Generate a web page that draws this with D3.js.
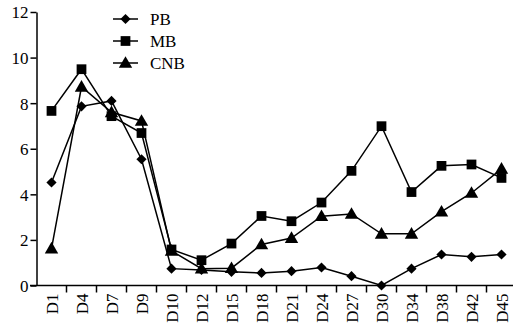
<!DOCTYPE html>
<html>
<head>
<meta charset="utf-8">
<script src="https://cdn.jsdelivr.net/npm/d3@7"></script>
<style>
body{margin:0;background:#fff;}
</style>
</head>
<body>
<div id="canvas"></div>
<script>
var days = ['D1','D4','D7','D9','D10','D12','D15','D18','D21','D24','D27','D30','D34','D38','D42','D45'];
var pb  = [4.52,7.86,8.10,5.54,0.74,0.68,0.60,0.55,0.63,0.79,0.41,0.00,0.74,1.36,1.26,1.36];
var mb  = [7.66,9.49,7.43,6.69,1.58,1.11,1.84,3.05,2.82,3.64,5.03,6.99,4.10,5.25,5.31,4.72];
var cnb = [1.62,8.72,7.60,7.22,1.52,0.74,0.76,1.80,2.08,3.04,3.14,2.27,2.27,3.24,4.06,5.12];
var yTicks = [0,2,4,6,8,10,12];
var seriesNames = ['PB','MB','CNB'];

var FONT = "'Liberation Serif', 'DejaVu Serif', serif";
var W = 513, H = 330;
var svg = d3.select('#canvas').append('svg')
    .attr('width',W).attr('height',H);

//Scale
var scaleX = d3.scaleBand().domain(days).range([36.5,516.5]).padding(0);
var scaleY = d3.scaleLinear().domain([0,12]).range([285.5,12]);

var series = [
    {name:'PB', values:pb, symbol:d3.symbolSquare, size:52, rot:45},
    {name:'MB', values:mb, symbol:d3.symbolSquare, size:95, rot:0},
    {name:'CNB', values:cnb, symbol:d3.symbolTriangle, size:78, rot:0}
];

//Axis
var axisY = d3.axisLeft(scaleY).tickValues(yTicks).tickSize(6).tickSizeOuter(0).tickPadding(2);
var gy = svg.append('g').attr('transform','translate(36.5,0)').call(axisY);
gy.attr('font-family',FONT);
gy.selectAll('text').attr('font-family',FONT).style('font-size','17px').attr('dy','0.35em').attr('fill','#000');

var gx = svg.append('g').attr('transform','translate(0,285.5)');
gx.append('line').attr('x1',30).attr('x2',516).attr('stroke','#000').attr('stroke-width',1.5);
gx.selectAll('.tk').data(days.slice(1)).enter().append('line')
    .attr('x1',function(d){return scaleX(d);})
    .attr('x2',function(d){return scaleX(d);})
    .attr('y1',0).attr('y2',7)
    .attr('stroke','#000').attr('stroke-width',1.5);
gx.selectAll('.lbl').data(days).enter().append('text')
    .attr('transform',function(d){return 'translate('+(scaleX(d)+scaleX.bandwidth()/2+6)+',8) rotate(-90)';})
    .attr('text-anchor','end')
    .attr('font-family',FONT)
    .style('font-size','17px')
    .text(function(d){return d;});

gy.select('.domain').attr('stroke-width',1.5);
gy.selectAll('.tick line').attr('stroke-width',1.5);

//Line generator
var line = d3.line()
    .x(function(d,i){return scaleX(days[i])+scaleX.bandwidth()/2;})
    .y(function(d){return scaleY(d);});

function markTransform(s,x,y){
    var dy = s.symbol===d3.symbolTriangle ? 1 : 0;
    return 'translate('+x+','+(y+dy)+') rotate('+s.rot+')';
}

series.forEach(function(s){
    svg.append('path').datum(s.values)
        .attr('d',line)
        .attr('fill','none').attr('stroke','#000').attr('stroke-width',1.5);
    svg.selectAll('.m-'+s.name).data(s.values).enter().append('path')
        .attr('d',d3.symbol().type(s.symbol).size(s.size))
        .attr('transform',function(d,i){
            return markTransform(s, scaleX(days[i])+scaleX.bandwidth()/2, scaleY(d));
        })
        .attr('fill','#000');
});

//Legend
var leg = svg.append('g').attr('transform','translate(113,19)');
series.forEach(function(s,i){
    var g = leg.append('g').attr('transform','translate(0,'+(i*22)+')');
    g.append('line').attr('x1',0).attr('x2',25).attr('stroke','#000').attr('stroke-width',1.5);
    g.append('path').attr('d',d3.symbol().type(s.symbol).size(s.size))
        .attr('transform',markTransform(s,12.5,0));
    g.append('text').attr('x',37).attr('dy','0.35em')
        .attr('font-family',FONT).style('font-size','17px').text(seriesNames[i]);
});
</script>
</body>
</html>
